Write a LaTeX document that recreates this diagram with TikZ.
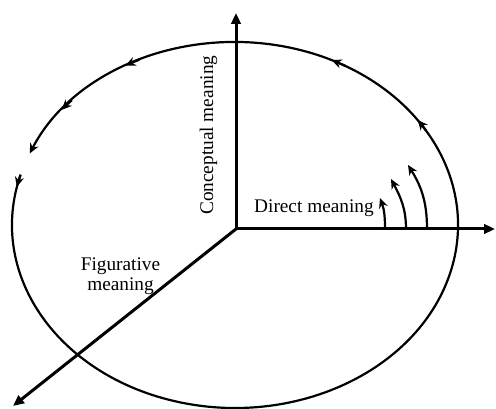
\documentclass[tikz,border=0pt]{standalone}
\usepackage{fontspec}
\setmainfont{Liberation Serif}
\usetikzlibrary{arrows.meta}
\begin{document}
\begin{tikzpicture}[x=1pt,y=1pt,
  axis/.style={line width=3pt,-{Triangle[length=11pt,width=9.5pt]}},
  mk/.style={line width=2.2pt,-{Stealth[length=10pt,width=9pt]}},
  lbl/.style={font=\fontsize{19.3}{19.5}\selectfont,inner sep=0pt}]
\useasboundingbox (0,0) rectangle (496,409);
\coordinate (O) at (236,180);
\coordinate (up) at (236,396);
\coordinate (right) at (495,180);
\coordinate (dl) at (13,3);
\coordinate (C) at (235,184);
% ellipse with a gap, counterclockwise
\draw[mk] ([shift={(164.2:223 and 183)}]C) arc[start angle=164.2, end angle=517, x radius=223, y radius=183];
\foreach \a in {168,395,424.3,479.4,501}{
  \draw[mk] ([shift={(\a-4:223 and 183)}]C) arc[start angle=\a-4, end angle=\a, x radius=223, y radius=183];
}
% small arcs
\coordinate (a1s) at (385,180); \coordinate (a1e) at (380,211);
\coordinate (a2s) at (406,180); \coordinate (a2e) at (391,230);
\coordinate (a3s) at (427,180); \coordinate (a3e) at (408,244);
\draw[mk] (a1s) to[out=90,in=-70] (a1e);
\draw[mk] (a2s) to[out=90,in=-62] (a2e);
\draw[mk] (a3s) to[out=90,in=-58] (a3e);
% axes
\draw[axis] (O) -- (up);
\draw[axis] (O) -- (right);
\draw[axis] (O) -- (dl);
% labels
\node[lbl,rotate=90,anchor=base west] (concept) at (213,194) {Conceptual meaning};
\node[lbl,anchor=base west] (direct) at (254,196) {Direct meaning};
\node[lbl,align=center] (fig) at (120.5,133) {Figurative\\meaning};
\end{tikzpicture}
\end{document}
